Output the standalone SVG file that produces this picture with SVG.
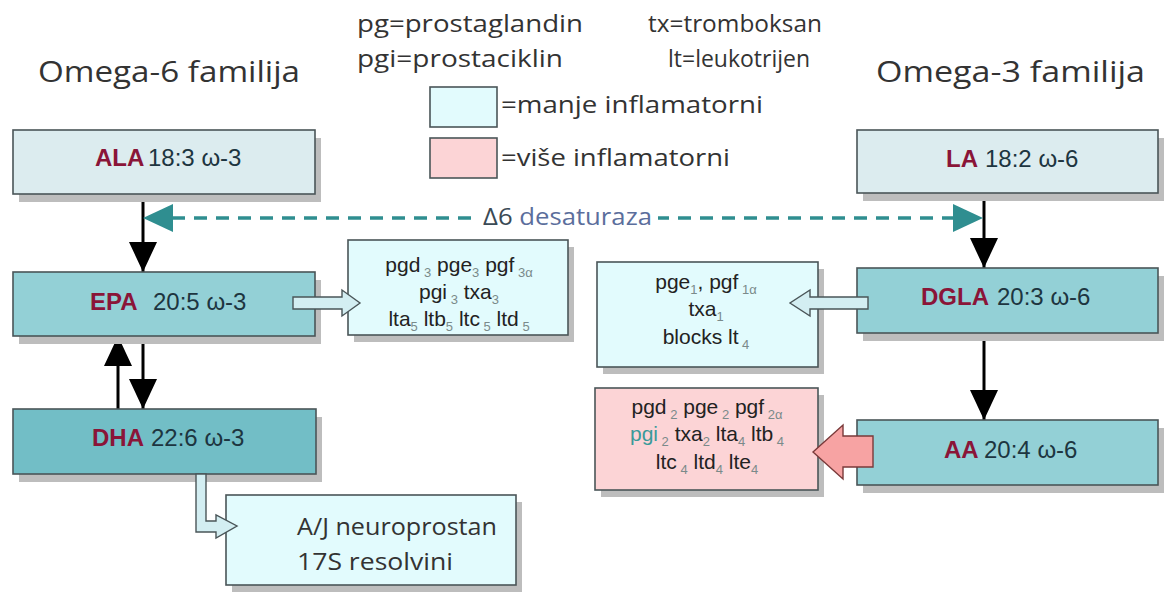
<svg xmlns="http://www.w3.org/2000/svg" width="1167" height="601" viewBox="0 0 1167 601">
<style>
.box{stroke:#4a5558;stroke-width:1.6}
.shadow{fill:#bdbdbd}
.pale{fill:#dcecef}
.teal{fill:#93d0d6}
.dteal{fill:#72bec6}
.prod{fill:#e2fbfd}
.pink{fill:#fcd4d6}
.lbl{font-family:"Liberation Sans",Arial,sans-serif;font-size:24px;fill:#1d3540}
.nm{font-weight:bold;fill:#8a1538}
.pt{font-family:"Liberation Sans",Arial,sans-serif;font-size:21px;fill:#222;text-anchor:middle}
.sub{font-size:13px;fill:#7a8a8a}
.cal{font-family:"Open Sans","Noto Sans",sans-serif;fill:#333}
.barrow{fill:#d3eef2;stroke:#4a5558;stroke-width:1.4}
</style>
<defs>
<marker id="ah" markerWidth="30" markerHeight="28" refX="30" refY="14" orient="auto" markerUnits="userSpaceOnUse" viewBox="0 0 30 28">
<path d="M0 0 L30 14 L0 28 Z" fill="#000"/>
</marker>
</defs>
<rect width="1167" height="601" fill="#fff"/>

<!-- titles & legend -->
<g id="legend">
<text class="cal" x="38" y="82" font-size="30" textLength="262" lengthAdjust="spacingAndGlyphs">Omega-6 familija</text>
<text class="cal" x="876" y="82" font-size="30" textLength="269" lengthAdjust="spacingAndGlyphs">Omega-3 familija</text>
<text class="cal" x="357" y="32" font-size="24" textLength="226" lengthAdjust="spacingAndGlyphs">pg=prostaglandin</text>
<text class="cal" x="648" y="32" font-size="24" textLength="174" lengthAdjust="spacingAndGlyphs">tx=tromboksan</text>
<text class="cal" x="357" y="67" font-size="24" textLength="206" lengthAdjust="spacingAndGlyphs">pgi=prostaciklin</text>
<text class="cal" x="668" y="67" font-size="24" textLength="142" lengthAdjust="spacingAndGlyphs">lt=leukotrijen</text>
<rect x="430" y="87" width="67" height="40" class="box prod"/>
<text class="cal" x="501" y="113" font-size="24" textLength="262" lengthAdjust="spacingAndGlyphs">=manje inflamatorni</text>
<rect x="430" y="138" width="67" height="40" class="box pink"/>
<text class="cal" x="501" y="166" font-size="24" textLength="229" lengthAdjust="spacingAndGlyphs">=više inflamatorni</text>
</g>

<!-- connectors -->
<g id="connectors">
<line x1="143" y1="194" x2="143" y2="272" stroke="#000" stroke-width="3" marker-end="url(#ah)"/>
<line x1="984" y1="193" x2="984" y2="268" stroke="#000" stroke-width="3" marker-end="url(#ah)"/>
<line x1="984" y1="333" x2="984" y2="420" stroke="#000" stroke-width="3" marker-end="url(#ah)"/>
<line x1="143" y1="336" x2="143" y2="409" stroke="#000" stroke-width="3" marker-end="url(#ah)"/>
<line x1="118" y1="409" x2="118" y2="336" stroke="#000" stroke-width="3" marker-end="url(#ah)"/>
<line x1="172" y1="218" x2="953" y2="218" stroke="#2f8e90" stroke-width="3.5" stroke-dasharray="13 9"/>
<path d="M143 218 L173 204 L173 232 Z" fill="#2f8e90"/>
<path d="M983 218 L953 204 L953 232 Z" fill="#2f8e90"/>
<rect x="476" y="204" width="182" height="28" fill="#fff"/>
<text x="483" y="225" font-family="'Open Sans','Noto Sans',sans-serif" font-size="23" fill="#3a4a55" textLength="169" lengthAdjust="spacingAndGlyphs">Δ6 <tspan fill="#5b6e9c">desaturaza</tspan></text>
</g>

<!-- nodes -->
<g id="ALA">
<rect x="19" y="138" width="302" height="64" class="shadow"/>
<rect x="13" y="130" width="302" height="64" class="box pale"/>
<text class="lbl" x="95" y="166"><tspan class="nm">ALA</tspan><tspan x="148">18:3 ω-3</tspan></text>
</g>
<g id="LA">
<rect x="863" y="138" width="301" height="63" class="shadow"/>
<rect x="857" y="130" width="301" height="63" class="box pale"/>
<text class="lbl" x="946" y="167"><tspan class="nm">LA</tspan><tspan x="985">18:2 ω-6</tspan></text>
</g>
<g id="EPA">
<rect x="19" y="280" width="302" height="64" class="shadow"/>
<rect x="13" y="272" width="302" height="64" class="box teal"/>
<text class="lbl" x="90" y="310"><tspan class="nm">EPA</tspan><tspan x="153">20:5 ω-3</tspan></text>
</g>
<g id="DGLA">
<rect x="863" y="276" width="301" height="65" class="shadow"/>
<rect x="857" y="268" width="301" height="65" class="box teal"/>
<text class="lbl" x="921" y="305"><tspan class="nm">DGLA</tspan><tspan x="997">20:3 ω-6</tspan></text>
</g>
<g id="DHA">
<rect x="19" y="417" width="303" height="65" class="shadow"/>
<rect x="13" y="409" width="303" height="65" class="box dteal"/>
<text class="lbl" x="92" y="446"><tspan class="nm">DHA</tspan><tspan x="151">22:6 ω-3</tspan></text>
</g>
<g id="AA">
<rect x="863" y="428" width="301" height="65" class="shadow"/>
<rect x="857" y="420" width="301" height="65" class="box teal"/>
<text class="lbl" x="944" y="458"><tspan class="nm">AA</tspan><tspan x="984">20:4 ω-6</tspan></text>
</g>

<g id="prod3">
<rect x="354" y="247" width="220" height="95" class="shadow"/>
<rect x="348" y="240" width="220" height="95" class="box prod"/>
<text class="pt" x="459" y="272">pgd<tspan class="sub" dy="5"> 3</tspan><tspan dy="-5"> pge</tspan><tspan class="sub" dy="5">3</tspan><tspan dy="-5"> pgf</tspan><tspan class="sub" dy="5"> 3α</tspan></text>
<text class="pt" x="459" y="299">pgi<tspan class="sub" dy="5"> 3</tspan><tspan dy="-5"> txa</tspan><tspan class="sub" dy="5">3</tspan></text>
<text class="pt" x="459" y="326">lta<tspan class="sub" dy="5">5</tspan><tspan dy="-5"> ltb</tspan><tspan class="sub" dy="5">5</tspan><tspan dy="-5"> ltc</tspan><tspan class="sub" dy="5"> 5</tspan><tspan dy="-5"> ltd</tspan><tspan class="sub" dy="5"> 5</tspan></text>
</g>
<g id="prod1">
<rect x="603" y="269" width="221" height="105" class="shadow"/>
<rect x="597" y="262" width="221" height="105" class="box prod"/>
<text class="pt" x="706" y="289">pge<tspan class="sub" dy="5">1</tspan><tspan dy="-5">, pgf</tspan><tspan class="sub" dy="5"> 1α</tspan></text>
<text class="pt" x="706" y="316">txa<tspan class="sub" dy="5">1</tspan></text>
<text class="pt" x="706" y="344">blocks lt<tspan class="sub" dy="5"> 4</tspan></text>
</g>
<g id="prod2">
<rect x="601" y="395" width="223" height="102" class="shadow"/>
<rect x="595" y="388" width="223" height="102" class="box pink"/>
<text class="pt" x="707" y="414">pgd<tspan class="sub" dy="5"> 2</tspan><tspan dy="-5"> pge</tspan><tspan class="sub" dy="5"> 2</tspan><tspan dy="-5"> pgf</tspan><tspan class="sub" dy="5"> 2α</tspan></text>
<text class="pt" x="707" y="441"><tspan fill="#3a9a9a">pgi</tspan><tspan class="sub" dy="5"> 2</tspan><tspan dy="-5">  txa</tspan><tspan class="sub" dy="5">2</tspan><tspan dy="-5"> lta</tspan><tspan class="sub" dy="5">4</tspan><tspan dy="-5"> ltb</tspan><tspan class="sub" dy="5"> 4</tspan></text>
<text class="pt" x="707" y="469">ltc<tspan class="sub" dy="5"> 4</tspan><tspan dy="-5"> ltd</tspan><tspan class="sub" dy="5">4</tspan><tspan dy="-5"> lte</tspan><tspan class="sub" dy="5">4</tspan></text>
</g>
<g id="resolvini">
<rect x="232" y="502" width="290" height="90" class="shadow"/>
<rect x="226" y="495" width="290" height="90" class="box prod"/>
<text class="cal" x="297" y="535" font-size="24" textLength="200" lengthAdjust="spacingAndGlyphs">A/J neuroprostan</text>
<text class="cal" x="297" y="570" font-size="24" textLength="156" lengthAdjust="spacingAndGlyphs">17S resolvini</text>
</g>

<!-- block arrows -->
<g id="block-arrows">
<path d="M293 297 L342 297 L342 290 L360 303 L342 316 L342 309 L293 309 Z" class="barrow"/>
<path d="M868 297 L810 297 L810 290 L790 303 L810 316 L810 309 L868 309 Z" class="barrow"/>
<path d="M196 474 L206 474 L206 521 L216 521 L216 515 L237 526 L216 538 L216 532 L196 532 Z" class="barrow"/>
<path d="M873 436 L843 436 L843 425 L813 452 L843 479 L843 467 L873 467 Z" fill="#f7a3a3" stroke="#7a3a3a" stroke-width="1.4"/>
</g>
</svg>
